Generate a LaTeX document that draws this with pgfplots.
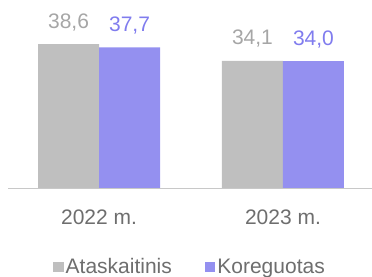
\documentclass[border=0pt]{standalone}
\usepackage{pgfplots}
\pgfplotsset{compat=1.18}
\usepackage{fontspec}
\setmainfont{Liberation Sans}
\definecolor{barg}{RGB}{191,191,191}
\definecolor{barp}{RGB}{148,144,240}
\definecolor{labg}{RGB}{166,166,166}
\definecolor{labp}{RGB}{128,124,238}
\definecolor{tickc}{RGB}{110,110,110}
\definecolor{axc}{RGB}{200,200,200}
\begin{document}
\fontsize{21bp}{25bp}\selectfont
\begin{tikzpicture}
\path[use as bounding box] (0,0) rectangle (372bp,277bp);
\begin{axis}[
  at={(8bp,89bp)}, anchor=south west,
  scale only axis, width=364bp, height=188bp,
  xmin=-0.495, xmax=1.484, ymin=0, ymax=50.4,
  ybar=0pt, bar width=61bp,
  axis x line*=bottom, axis y line=none,
  x axis line style={draw=axc, line width=1bp, -},
  xtick={0,1}, xticklabels={2022 m., 2023 m.},
  xtick style={draw=none},
  xticklabel style={text=tickc, font=\fontsize{21bp}{25bp}\selectfont, yshift=-10bp},
  /pgf/number format/assume math mode=true,
  nodes near coords,
  nodes near coords style={font=\fontsize{21bp}{25bp}\selectfont, /pgf/number format/.cd, use comma, fixed, fixed zerofill, precision=1, /tikz/.cd, yshift=6bp},
  legend style={draw=none, at={(0.5,-0.362)}, anchor=north, legend columns=2, font=\fontsize{21bp}{25bp}\selectfont, text=tickc, /tikz/every even column/.append style={column sep=31bp}, inner sep=0pt},
  legend image code/.code={\fill[#1] (0bp,-5bp) rectangle (10.5bp,5.5bp);},
]
\addplot[fill=barg, draw=none, nodes near coords style={text=labg}] coordinates {(0,38.6) (1,34.1)};
\addplot[fill=barp, draw=none, nodes near coords style={text=labp}] coordinates {(0,37.7) (1,34.0)};
\legend{Ataskaitinis, Koreguotas}
\end{axis}
\end{tikzpicture}
\end{document}
